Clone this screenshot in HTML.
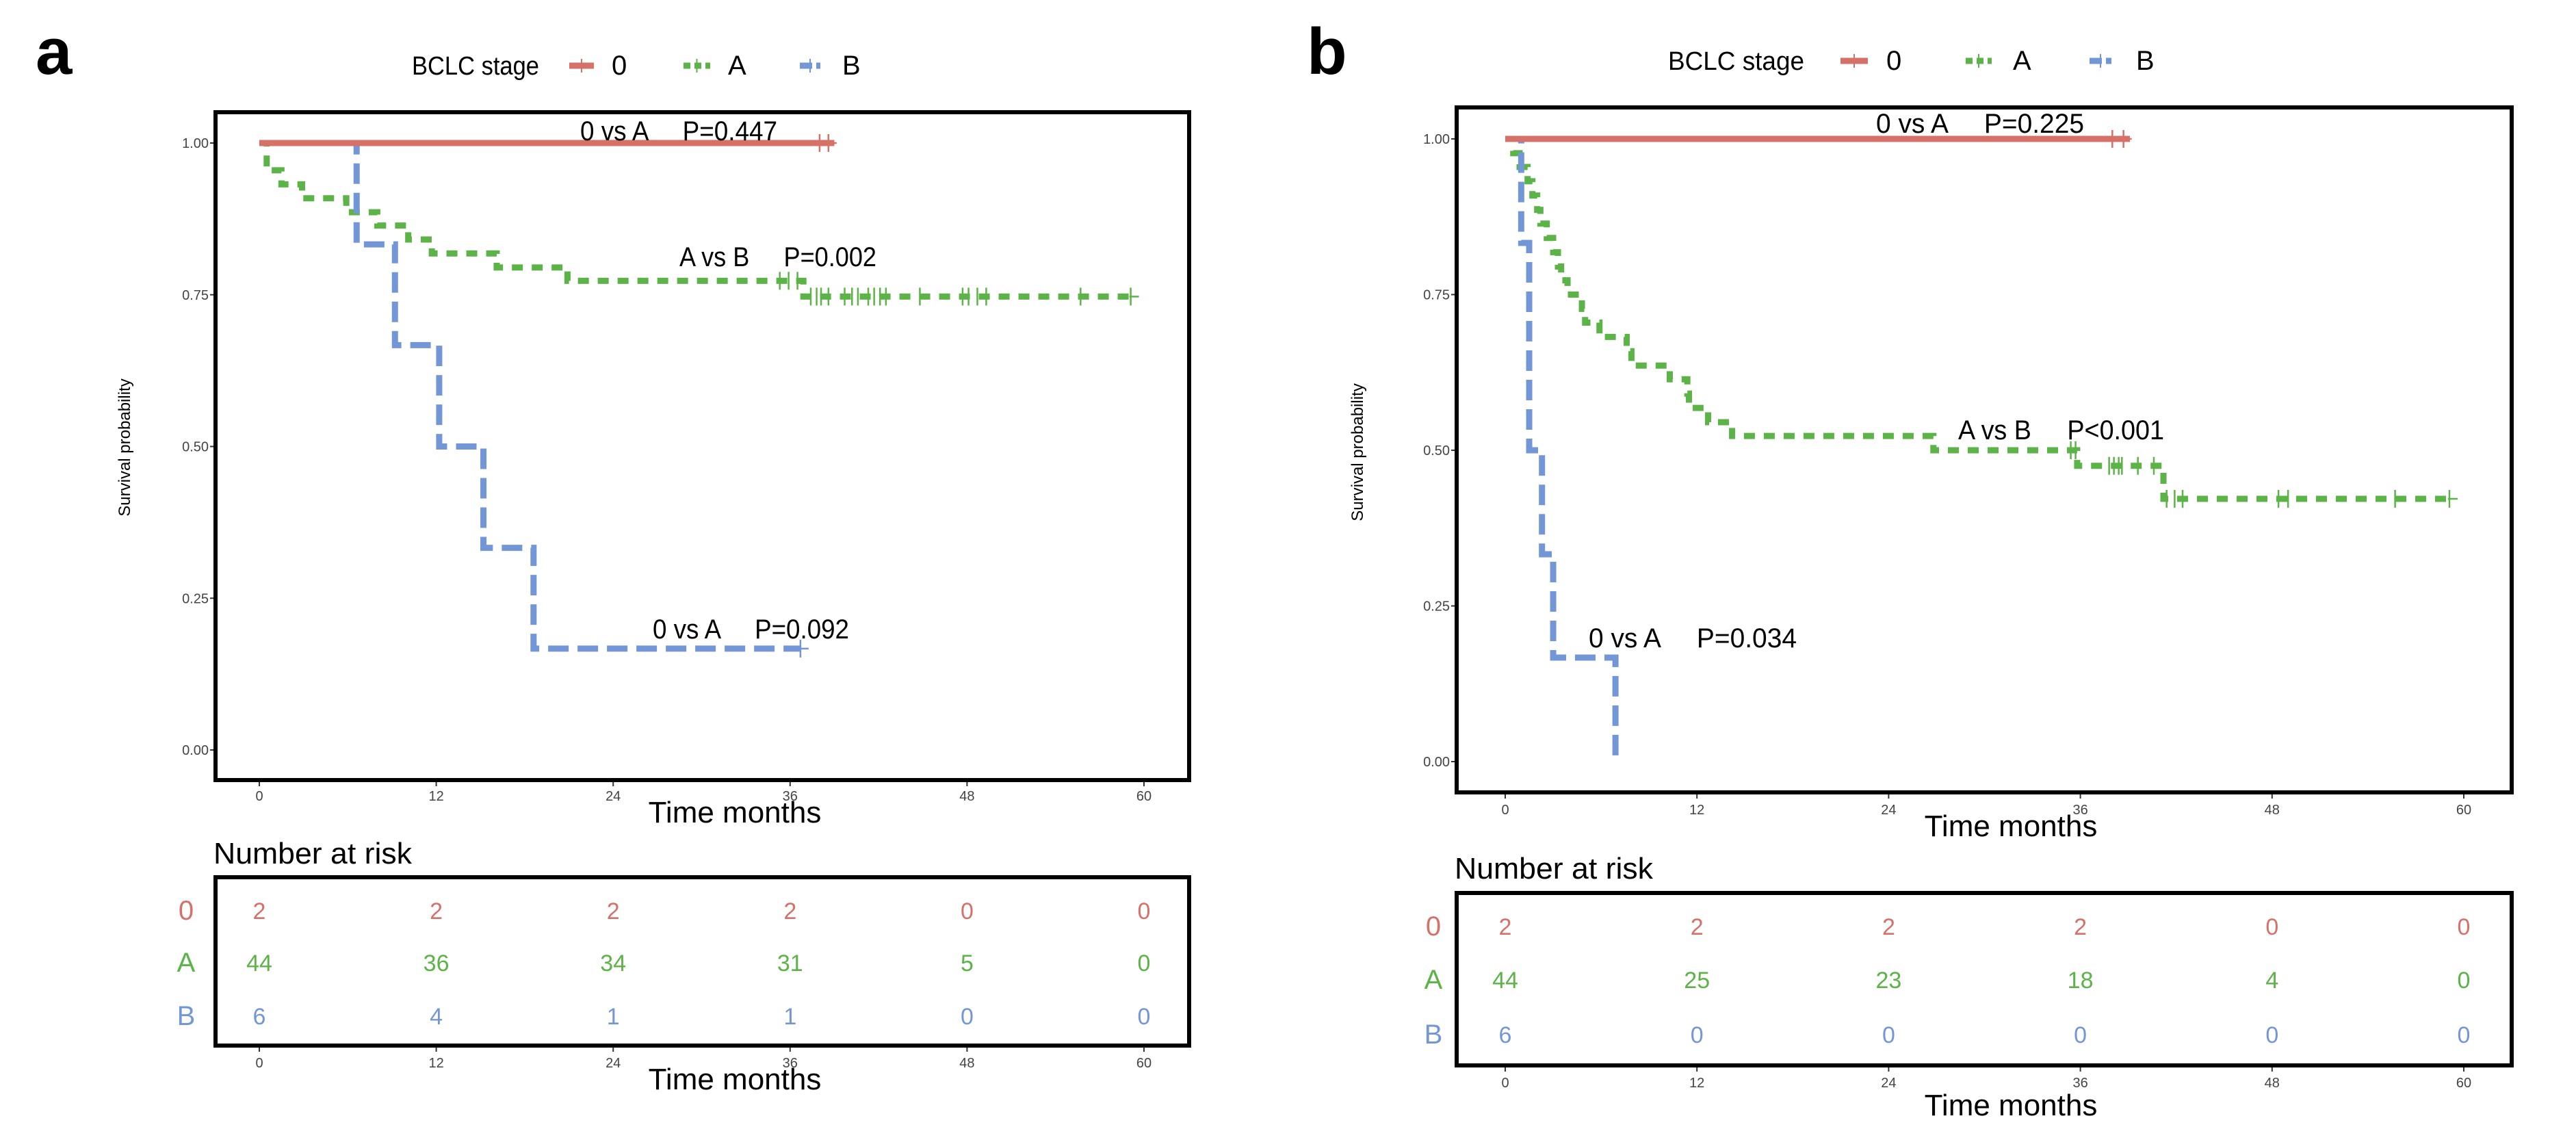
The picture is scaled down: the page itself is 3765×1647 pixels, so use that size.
<!DOCTYPE html>
<html><head><meta charset="utf-8">
<style>
html,body{margin:0;padding:0;background:#fff;}
svg{display:block;}
text{font-family:"Liberation Sans",sans-serif;}
.pre{white-space:pre;}
</style></head>
<body>
<svg id="fig" width="3765" height="1647" viewBox="0 0 3765 1647" xmlns="http://www.w3.org/2000/svg">
<rect width="3765" height="1647" fill="#fff"/>
</svg>
<script>
// ===== data =====
const timeTicks = [0, 12, 24, 36, 48, 60];
const survTicks = [0, 0.25, 0.5, 0.75, 1.0];
const survTickLabels = ["0.00", "0.25", "0.50", "0.75", "1.00"];
const groups = ["0", "A", "B"];

// panel a
const aRedSteps = [];
const aRedEnd = 39.0;
const aRedCensor = [38.0, 38.6];
const aGreenSteps = [[0.5,0.955],[1.5,0.932],[2.9,0.909],[5.9,0.886],[8.0,0.864],[10.1,0.841],[11.7,0.818],[16.1,0.795],[20.9,0.773],[36.9,0.747]];
const aGreenEnd = 59.1;
const aGreenCensor = [35.3,35.9,36.5,37.4,37.8,38.1,38.6,39.7,40.2,40.6,41.3,41.7,42.1,42.5,44.8,47.7,48.1,48.7,49.3,55.7,59.1];
const aBlueSteps = [[6.6,0.833],[9.2,0.667],[12.2,0.5],[15.2,0.333],[18.6,0.167]];
const aBlueEnd = 36.7;
const aBlueCensor = [36.7];
const aRiskRed = [2,2,2,2,0,0];
const aRiskGreen = [44,36,34,31,5,0];
const aRiskBlue = [6,4,1,1,0,0];
const aPLabels = ["0 vs A     P=0.447", "A vs B     P=0.002", "0 vs A     P=0.092"];

// panel b
const bRedSteps = [];
const bRedEnd = 39.1;
const bRedCensor = [38.0, 38.7];
const bGreenSteps = [[0.5,0.977],[0.9,0.955],[1.4,0.932],[1.7,0.909],[2.0,0.886],[2.2,0.864],[2.6,0.841],[3.0,0.818],[3.3,0.795],[3.5,0.773],[3.9,0.750],[4.8,0.727],[5.0,0.705],[5.9,0.682],[7.6,0.659],[7.9,0.636],[10.3,0.614],[11.4,0.591],[11.5,0.568],[12.7,0.545],[14.2,0.523],[26.8,0.500],[35.8,0.475],[41.2,0.422]];
const bGreenEnd = 59.1;
const bGreenCensor = [35.4,35.7,37.8,38.1,38.4,38.6,39.6,40.6,41.4,41.9,42.4,48.4,49.0,55.7,59.1];
const bBlueSteps = [[1.0,0.833],[1.5,0.5],[2.3,0.333],[3.0,0.167],[6.9,0.0]];
const bBlueEnd = 6.9;
const bBlueCensor = [];
const bRiskRed = [2,2,2,2,0,0];
const bRiskGreen = [44,25,23,18,4,0];
const bRiskBlue = [6,0,0,0,0,0];
const bPLabels = ["0 vs A     P=0.225", "A vs B     P<0.001", "0 vs A     P=0.034"];

// ===== drawing =====
const NS = "http://www.w3.org/2000/svg";
const svg = document.getElementById("fig");
const RED = "#d6716a", GREEN = "#5cb347", BLUE = "#7397d6";
function mk(tag, attrs, parent) {
  const e = document.createElementNS(NS, tag);
  for (const k in attrs) e.setAttribute(k, attrs[k]);
  (parent || svg).appendChild(e);
  return e;
}
function txt(s, attrs, parent) { const e = mk("text", attrs, parent); e.textContent = s; return e; }

function panel(P) {
  const g = mk("g", {});
  
  
  const xs = t => P.x0 + (t / 60) * (P.x60 - P.x0);
  const ys = s => P.y0 + s * (P.y1 - P.y0);

  const lab = txt(P.id, {x: P.labX, y: P.labY, "font-size": 96, "font-weight": "bold"}, g);
  
  

  // legend
  const lg = mk("g", {}, g);
  
  
  txt("BCLC stage", {x: P.leg.title, y: P.leg.y + 13, "font-size": 38, textLength: P.leg.titleW, lengthAdjust: "spacingAndGlyphs"}, lg);
  const cols = [RED, GREEN, BLUE], dashes = ["", "10 6", "18 6"];
  groups.forEach((gr, i) => {
    const k = P.leg.keys[i];
    const e = mk("g", {}, lg);
    
    
    mk("line", {x1: k[0], x2: k[1], y1: P.leg.y, y2: P.leg.y, stroke: cols[i], "stroke-width": 9, "stroke-dasharray": dashes[i]}, e);
    mk("line", {x1: (k[0]+k[1])/2, x2: (k[0]+k[1])/2, y1: P.leg.y-10, y2: P.leg.y+10, stroke: cols[i], "stroke-width": 2}, e);
    txt(gr, {x: k[2], y: P.leg.y + 13, "font-size": 40}, e);
  });

  // plot box
  const box = mk("rect", {x: P.bx0, y: P.by0, width: P.bx1 - P.bx0, height: P.by1 - P.by0, fill: "none", stroke: "#000", "stroke-width": 6}, g);
  
  

  // y axis
  const ya = mk("g", {}, g);
  
  
  survTicks.forEach((s, i) => {
    mk("line", {x1: P.bx0 - 8, x2: P.bx0 - 3, y1: ys(s), y2: ys(s), stroke: "#333", "stroke-width": 2}, ya);
    txt(survTickLabels[i], {x: P.bx0 - 10, y: ys(s) + 7, "font-size": 20, fill: "#444", "text-anchor": "end"}, ya);
  });
  const yt = txt("Survival probability", {x: P.ylabX, y: P.ylabY, "font-size": 24, "text-anchor": "middle", transform: "rotate(-90 " + P.ylabX + " " + P.ylabY + ")"}, g);
  
  

  // x axis
  function xaxis(yb, ty, titleY, nm) {
    const xa = mk("g", {}, g);
    
    
    timeTicks.forEach(t => {
      mk("line", {x1: xs(t), x2: xs(t), y1: yb + 3, y2: yb + 9, stroke: "#333", "stroke-width": 2}, xa);
      txt(String(t), {x: xs(t), y: ty, "font-size": 20, fill: "#444", "text-anchor": "middle"}, xa);
    });
    const tt = txt("Time months", {x: P.tmX, y: titleY, "font-size": 44, "text-anchor": "middle"}, xa);
    
    
  }
  xaxis(P.by1, P.tickY, P.tmY, 'x-axis');

  // curves
  function curve(steps, end, cens, col, dash, nm) {
    let d = "M" + xs(0) + "," + ys(1);
    steps.forEach(st => { d += " H" + xs(st[0]) + " V" + ys(st[1]); });
    d += " H" + xs(end);
    const c = mk("g", {}, g);
    
    
    mk("path", {d: d, fill: "none", stroke: col, "stroke-width": 9, "stroke-dasharray": dash}, c);
    cens.forEach(t => {
      let s = 1;
      steps.forEach(st => { if (st[0] <= t) s = st[1]; });
      const cm = mk("line", {x1: xs(t), x2: xs(t), y1: ys(s) - 13, y2: ys(s) + 13, stroke: col, "stroke-width": 2.5}, c);
      
      
    });
    if (cens.length) {
      const lt = cens[cens.length - 1];
      let s = 1; steps.forEach(st => { if (st[0] <= lt) s = st[1]; });
      mk("line", {x1: xs(lt) - 2, x2: xs(lt) + 12, y1: ys(s), y2: ys(s), stroke: col, "stroke-width": 2.5}, c);
    }
  }
  curve(P.green[0], P.green[1], P.green[2], GREEN, "16 13", 'curve-stage-A');
  curve(P.blue[0], P.blue[1], P.blue[2], BLUE, "30 13", 'curve-stage-B');
  curve(P.red[0], P.red[1], P.red[2], RED, "", 'curve-stage-0');

  // p-value annotations
  P.plPos.forEach((a, i) => {
    const e = txt(P.plabels[i], {x: a[0], y: a[2], "font-size": 40, textLength: a[1] - a[0], lengthAdjust: "spacingAndGlyphs", "class": "pre"}, g);
    
    
  });

  // risk table
  const rt = mk("g", {}, g);
  
  
  txt("Number at risk", {x: P.bx0 - 3, y: P.nrY, "font-size": 44, textLength: 290, lengthAdjust: "spacingAndGlyphs"}, rt);
  mk("rect", {x: P.bx0, y: P.rt0, width: P.bx1 - P.bx0, height: P.rt1 - P.rt0, fill: "none", stroke: "#000", "stroke-width": 6}, rt);
  const rows = [P.risk[0], P.risk[1], P.risk[2]];
  rows.forEach((r, i) => {
    const yy = P.rowY[i];
    const lbl = txt(groups[i], {x: P.rowLabX, y: yy + 14, "font-size": 40, fill: cols[i], "text-anchor": "middle"}, rt);
    
    
    r.forEach((v, j) => {
      txt(String(v), {x: xs(timeTicks[j]), y: yy + 13, "font-size": 34, fill: cols[i], "text-anchor": "middle"}, rt);
    });
  });
  xaxis(P.rt1, P.rTickY, P.rTmY, 'risk-x-axis');
}

panel({
  id: "a", labX: 52, labY: 108,
  leg: {y: 96, title: 602, titleW: 186, keys: [[832,868,894],[999,1038,1064],[1169,1199,1231]]},
  bx0: 315, bx1: 1738, by0: 164, by1: 1140,
  x0: 379, x60: 1672, y0: 1096, y1: 209,
  ylabX: 190, ylabY: 654,
  tickY: 1170, tmX: 1074, tmY: 1202,
  red: [aRedSteps, aRedEnd, aRedCensor], green: [aGreenSteps, aGreenEnd, aGreenCensor], blue: [aBlueSteps, aBlueEnd, aBlueCensor],
  plabels: aPLabels,
  plPos: [[848,1136,205],[993,1281,389],[954,1241,933]],
  nrY: 1262, rt0: 1282, rt1: 1528, rowY: [1330, 1406, 1484], rowLabX: 272,
  risk: [aRiskRed, aRiskGreen, aRiskBlue],
  rTickY: 1560, rTmY: 1592
});
panel({
  id: "b", labX: 1910, labY: 108,
  leg: {y: 89, title: 2438, titleW: 199, keys: [[2690,2730,2757],[2873,2911,2942],[3054,3086,3122]]},
  bx0: 2129, bx1: 3671, by0: 157, by1: 1158,
  x0: 2200, x60: 3601, y0: 1113, y1: 203,
  ylabX: 1992, ylabY: 661,
  tickY: 1190, tmX: 2939, tmY: 1222,
  red: [bRedSteps, bRedEnd, bRedCensor], green: [bGreenSteps, bGreenEnd, bGreenCensor], blue: [bBlueSteps, bBlueEnd, bBlueCensor],
  plabels: bPLabels,
  plPos: [[2742,3046,194],[2862,3163,642],[2322,2626,946]],
  nrY: 1284, rt0: 1305, rt1: 1557, rowY: [1353, 1431, 1511], rowLabX: 2095,
  risk: [bRiskRed, bRiskGreen, bRiskBlue],
  rTickY: 1589, rTmY: 1630
});
</script>
</body></html>
